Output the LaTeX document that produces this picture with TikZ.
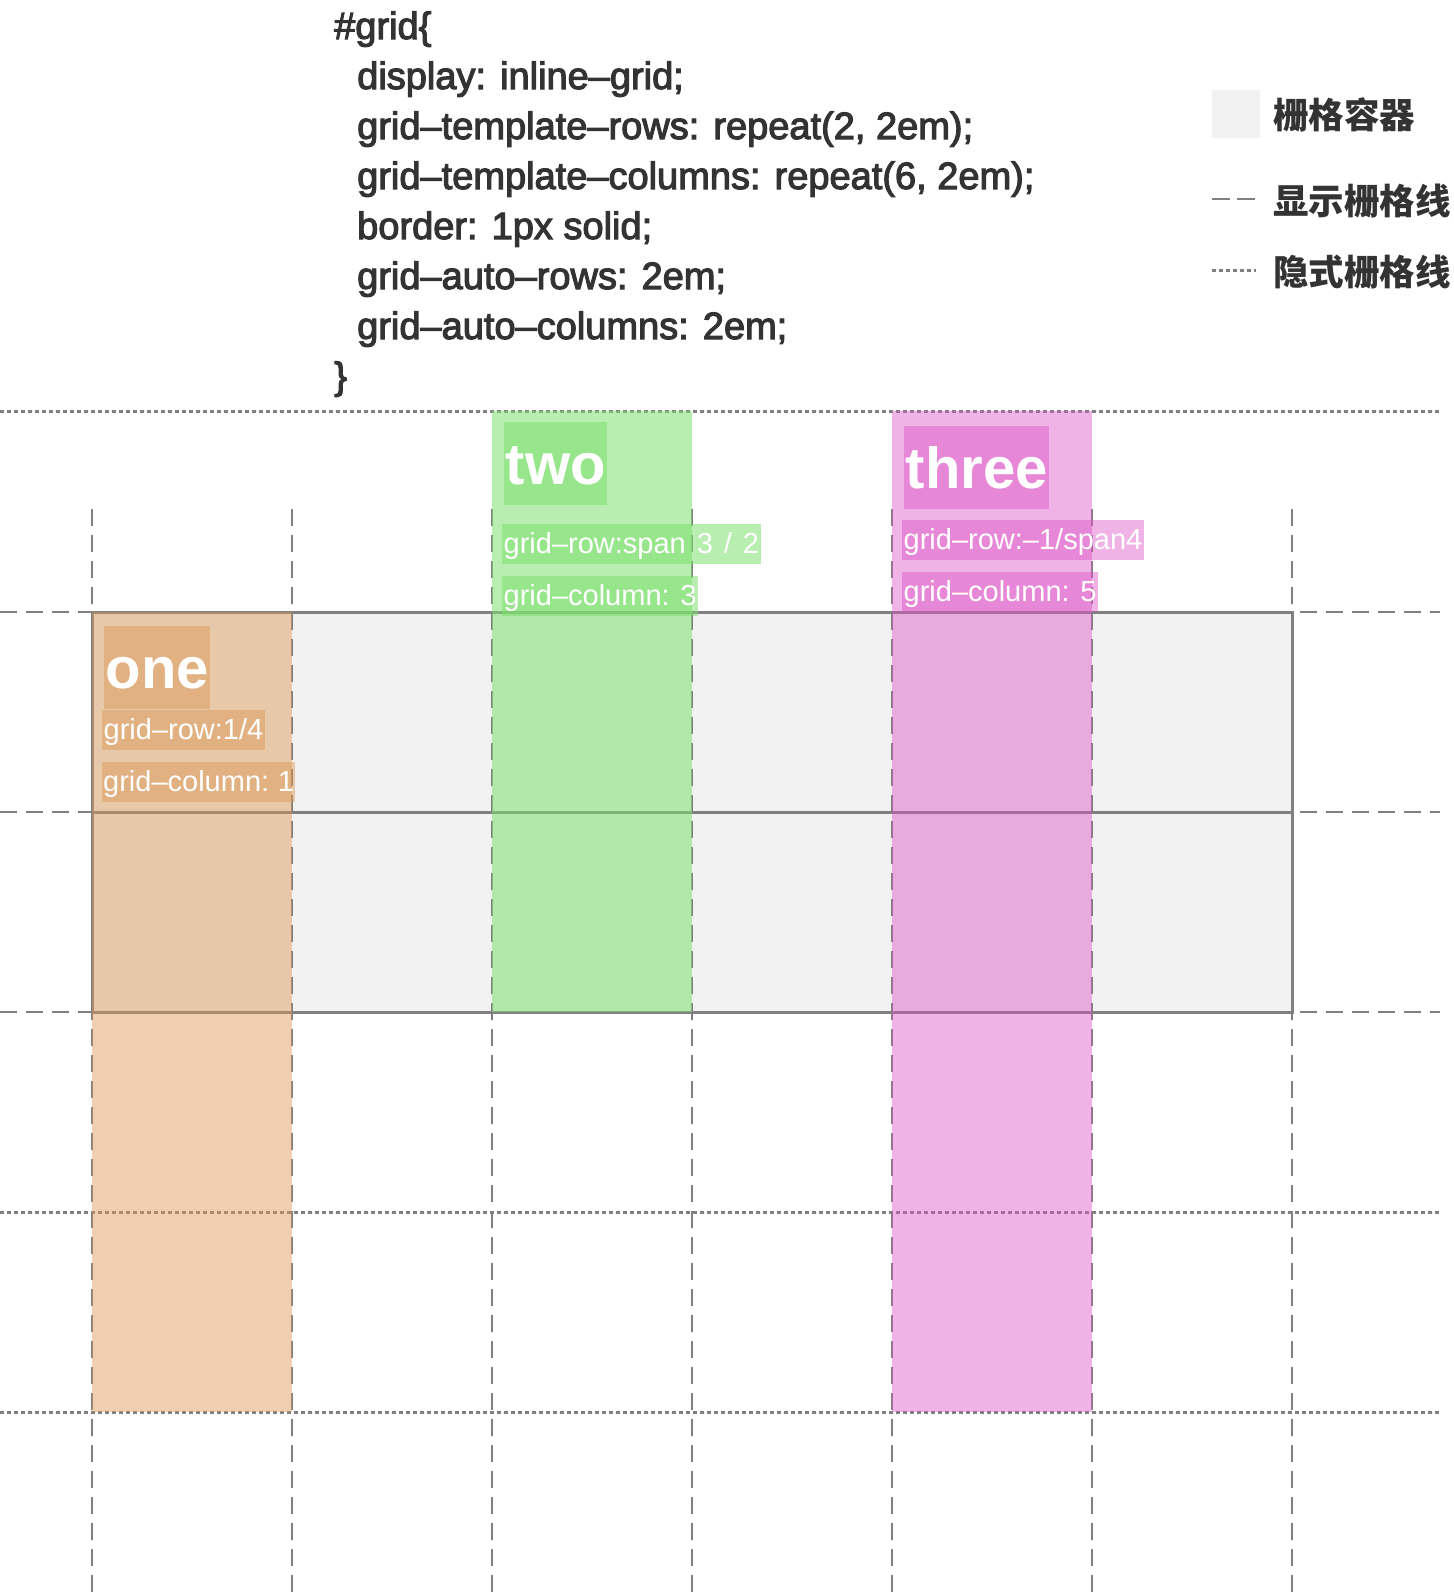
\documentclass[tikz,border=0pt]{standalone}
\usepackage{fontspec}
\setmainfont{Liberation Sans}
\newfontfamily\codefont{Liberation Sans}[FakeBold=3]
\newfontfamily\cjkfont{Noto Sans CJK SC}
\definecolor{gline}{HTML}{808080}
\definecolor{cont}{HTML}{F2F2F2}
\definecolor{txt}{HTML}{333333}
\definecolor{orng}{RGB}{220,151,83}
\definecolor{grn}{RGB}{126,224,111}
\definecolor{pnk}{RGB}{219,82,196}
\tikzset{
  gl/.style={draw=gline, line width=2pt},
  cbord/.style={draw=gline, line width=3pt},
  dashln/.style={gl, dash pattern=on 17pt off 9pt},
  dotln/.style={draw=gline, line width=3pt, dash pattern=on 3.5pt off 3.5pt},
  code/.style={anchor=base west, inner sep=0pt, text=txt, font=\codefont\fontsize{38}{50}\selectfont},
  biglab/.style={anchor=north west, inner xsep=1.5pt, inner ysep=0pt, text height=62pt, text depth=21pt,
    font=\fontsize{58}{60}\selectfont\bfseries, text=white, text opacity=1},
  smallab/.style={anchor=north west, inner xsep=1.5pt, inner ysep=0pt, text height=29pt, text depth=11pt,
    font=\fontsize{29}{30}\selectfont, text=white, text opacity=1},
  ofill/.style={fill=orng, fill opacity=0.46},
  gfill/.style={fill=grn, fill opacity=0.55},
  pfill/.style={fill=pnk, fill opacity=0.44},
  legtext/.style={anchor=west, inner sep=0pt, text=txt, font=\cjkfont\bfseries\fontsize{35.5}{40}\selectfont}
}
\begin{document}
\begin{tikzpicture}[x=1pt,y=-1pt]
\useasboundingbox (0,0) rectangle (1454,1596);
% code
\node[code] (c1) at (334,39) {\#grid\{};
\node[code] (c2) at (357,89) {display: inline–grid;};
\node[code] (c3) at (357,139) {grid–template–rows: repeat(2, 2em);};
\node[code] (c4) at (357,189) {grid–template–columns: repeat(6, 2em);};
\node[code] (c5) at (357,239) {border: 1px solid;};
\node[code] (c6) at (357,289) {grid–auto–rows: 2em;};
\node[code] (c7) at (357,339) {grid–auto–columns: 2em;};
\node[code] (c8) at (334,389) {\}};
% legend
\node[fill=cont, minimum size=48pt, inner sep=0pt, anchor=north west] (legbox) at (1212,90) {};
\node[legtext] (leg1) at (1273,115) {栅格容器};
\coordinate (d1) at (1212,199); \coordinate (d2) at (1255,199);
\draw[gl, dash pattern=on 18pt off 7pt] (d1) -- (d2);
\node[legtext] (leg2) at (1273,201) {显示栅格线};
\coordinate (e1) at (1212,270); \coordinate (e2) at (1256,270);
\draw[dotln] (e1) -- (e2);
\node[legtext] (leg3) at (1273,272) {隐式栅格线};
% container
\fill[cont] (92,612) rectangle (1292,1012);
% implicit (dotted) lines
\foreach \yy in {411,1212,1412} \draw[dotln] (0,\yy) -- (1440,\yy);
% explicit (dashed) lines
\foreach \yy in {612,812,1012} \draw[dashln] (0,\yy) -- (1440,\yy);
\foreach \xx in {92,292,492,692,892,1092,1292} \draw[dashln] (\xx,509) -- (\xx,1596);
\draw[cbord] (92,612) rectangle (1292,1012);
\draw[cbord] (92,812) -- (1292,812);
% items
\fill[ofill] (92,612) rectangle (292,1412);
\fill[gfill] (492,411) rectangle (692,1012);
\fill[pfill] (892,411) rectangle (1092,1412);
% labels
\node[biglab, ofill] (oneT) at (104,626) {one};
\node[smallab, ofill] (oneR) at (102,710) {grid–row:1/4};
\node[smallab, ofill, inner xsep=1pt] (oneC) at (102,762) {\spaceskip=6pt grid–column: 1};
\node[biglab, gfill] (twoT) at (504,422) {two};
\node[smallab, gfill] (twoR) at (502,524) {\spaceskip=11pt grid–row:span 3 / 2};
\node[smallab, gfill] (twoC) at (502,576) {grid–column: 3};
\node[biglab, pfill] (thrT) at (904,426) {three};
\node[smallab, pfill] (thrR) at (902,520) {grid–row:–1/span4};
\node[smallab, pfill] (thrC) at (902,572) {grid–column: 5};
\end{tikzpicture}
\end{document}
